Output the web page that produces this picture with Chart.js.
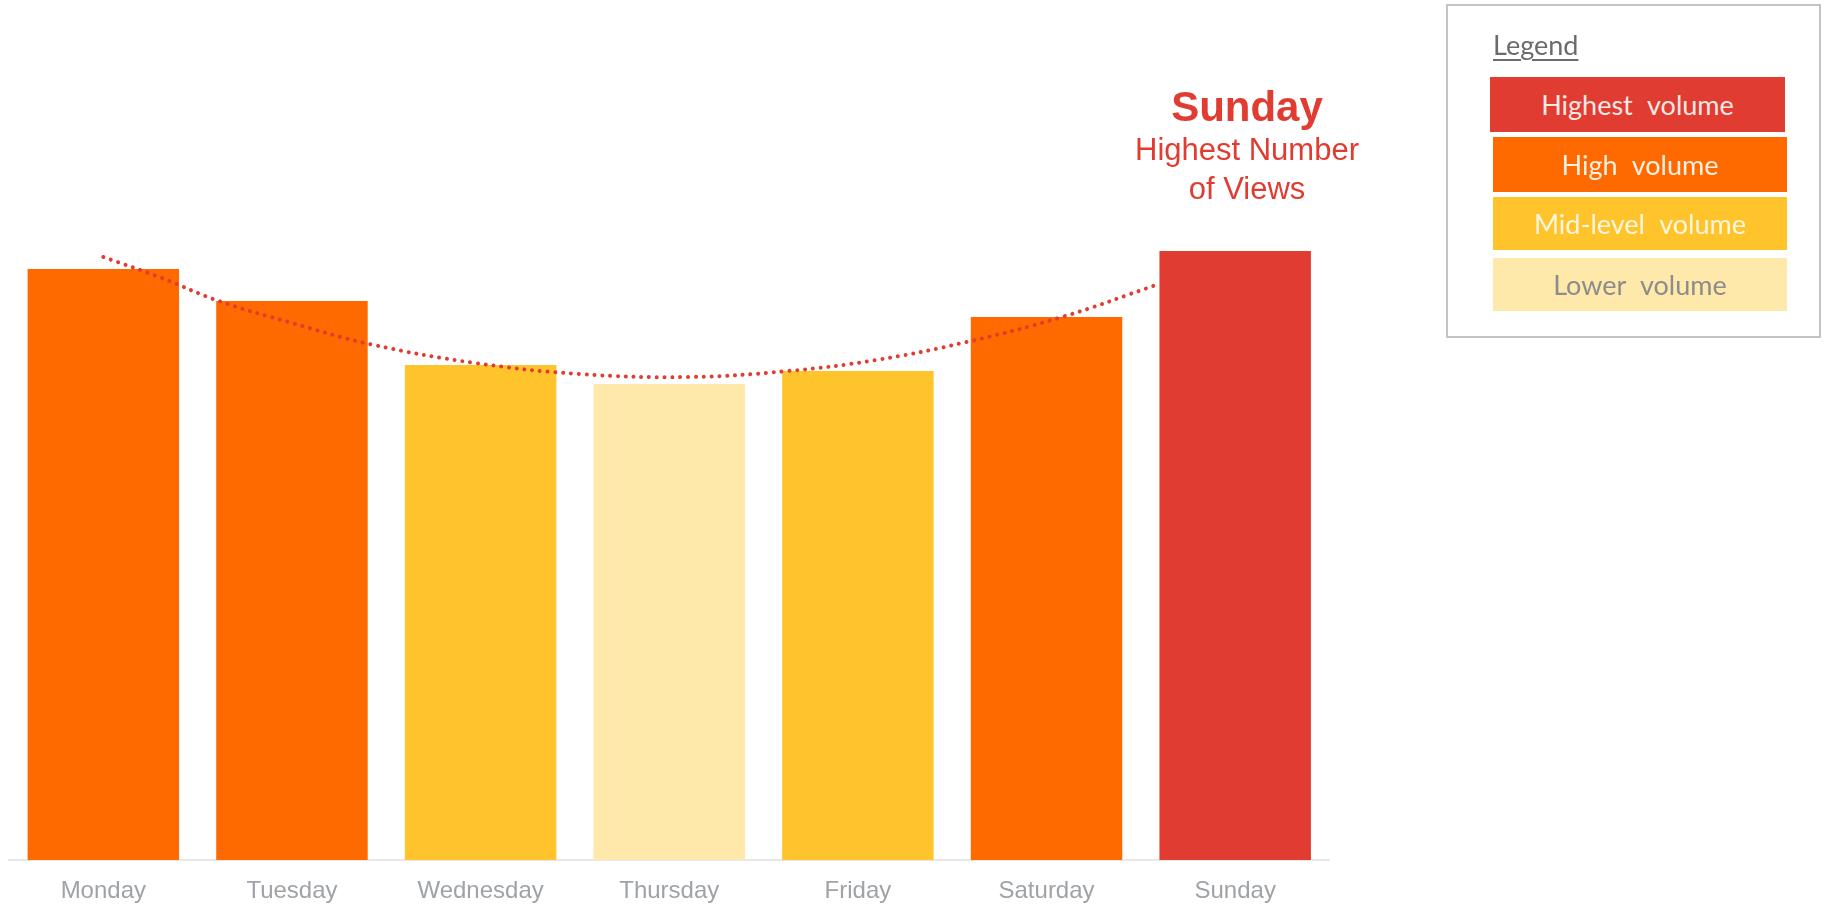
<!DOCTYPE html>
<html><head><meta charset="utf-8">
<script src="https://cdn.jsdelivr.net/npm/chart.js@4.4.1/dist/chart.umd.min.js"></script>
<style>
html,body{margin:0;padding:0;background:#fff;width:1824px;height:904px;overflow:hidden;}
body{position:relative;font-family:"Liberation Sans",Arial,sans-serif;}
#wrap{position:absolute;left:0;top:0;width:1340px;height:904px;}
.ann{position:absolute;left:1047px;width:400px;text-align:center;color:#e03c31;white-space:nowrap;}
#ann1{top:86px;font-size:42px;line-height:42px;font-weight:bold;}
#ann2{top:131px;font-size:31px;line-height:38.6px;}
#legend{position:absolute;left:1446px;top:4px;width:375px;height:334px;box-sizing:border-box;border:2px solid #c4c4c4;font-family:Lato,"Open Sans",sans-serif;}
#legtitle{position:absolute;left:45px;top:23px;font-size:27px;line-height:32px;color:#6b6b6b;text-decoration:underline;text-underline-offset:4px;}
.row{position:absolute;display:flex;align-items:center;justify-content:center;font-size:27px;word-spacing:8px;color:#fdf1ea;}
</style></head><body>
<div id="wrap"><canvas id="c" width="1340" height="904"></canvas></div>
<div class="ann" id="ann1">Sunday</div>
<div class="ann" id="ann2">Highest Number<br>of Views</div>
<div id="legend">
  <div id="legtitle">Legend</div>
</div>
<script>
// ---- data ----
const days = ['Monday','Tuesday','Wednesday','Thursday','Friday','Saturday','Sunday'];
const views = [591, 559, 495, 476, 489, 543, 609];
const volumeLevel = ['High','High','Mid-level','Lower','Mid-level','High','Highest'];
const legendLabels = ['Highest volume','High volume','Mid-level volume','Lower volume'];
const legendLevels = ['Highest','High','Mid-level','Lower'];
// trendline (x = category index, y = value)
const trendX = [0, 0.31, 0.612, 1.0, 1.411, 1.971, 2.527, 3.103, 3.629, 4.096, 4.576, 5.082, 5.581];
const trendY = [603, 582, 559, 537, 516, 497, 486, 483, 489, 500, 518, 543, 575];

// ---- styles ----
const levelColors = {'Highest':'#e03c31','High':'#ff6a00','Mid-level':'#ffc42c','Lower':'#fee9ab'};
const levelText = {'Highest':'#fbe8e4','High':'#fff0e4','Mid-level':'#fff6e0','Lower':'#8c8c8c'};
const rowBoxes = [
  {l:42,t:71,w:295,h:55},
  {l:45,t:131,w:294,h:55},
  {l:45,t:191,w:294,h:53},
  {l:45,t:252,w:294,h:53}
];

// legend rows (HTML text)
const leg = document.getElementById('legend');
legendLabels.forEach((txt,i)=>{
  const d = document.createElement('div');
  d.className='row';
  const b = rowBoxes[i];
  d.style.left=b.l+'px'; d.style.top=b.t+'px'; d.style.width=b.w+'px'; d.style.height=b.h+'px';
  d.style.background=levelColors[legendLevels[i]];
  d.style.color=levelText[legendLevels[i]];
  d.textContent=txt;
  leg.appendChild(d);
});

const trendPts = trendX.map((x,i)=>({x:x,y:trendY[i]}));

new Chart(document.getElementById('c'), {
  type:'bar',
  data:{
    labels: days,
    datasets:[
      {
        type:'line',
        label:'Trend',
        data: trendPts,
        xAxisID:'xT',
        yAxisID:'y',
        borderColor:'#e03c31',
        borderWidth:4,
        borderDash:[0.01,7.8],
        borderCapStyle:'round',
        tension:0.4,
        pointRadius:0,
        fill:false,
        order:0
      },
      {
        label:'Views',
        data: views,
        backgroundColor: volumeLevel.map(l=>levelColors[l]),
        borderWidth:0,
        grouped:false,
        categoryPercentage:1.0,
        barPercentage:0.803,
        xAxisID:'x',
        yAxisID:'y',
        order:1
      }
    ]
  },
  options:{
    responsive:false,
    animation:false,
    layout:{padding:{left:9,right:10.5,top:0,bottom:0}},
    plugins:{legend:{display:false},tooltip:{enabled:false}},
    scales:{
      x:{
        type:'category',
        offset:true,
        grid:{display:false,drawTicks:false},
        border:{display:true,color:'#e8e8e8',width:2},
        ticks:{color:'#9fa3a7',font:{family:'"Liberation Sans", Arial, sans-serif',size:24},padding:17,maxRotation:0,autoSkip:false},
        afterFit:(s)=>{s.height=44;}
      },
      xT:{
        type:'linear',display:false,offset:false,min:-0.5,max:6.5,
        grid:{offset:false}
      },
      y:{
        display:false,min:0,max:860
      }
    }
  }
});
</script>
</body></html>
